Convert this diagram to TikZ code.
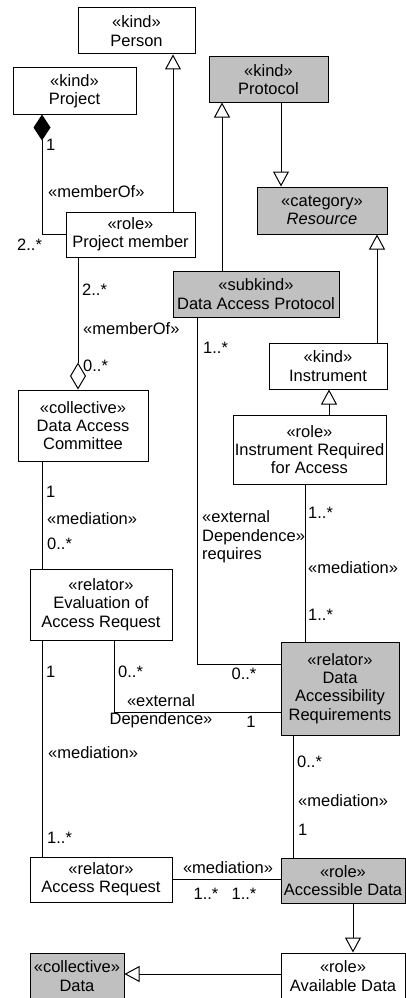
\documentclass[tikz,border=0pt]{standalone}
\usepackage{fontspec}
\setmainfont{Liberation Sans}
\usetikzlibrary{arrows.meta}
\definecolor{umlgray}{RGB}{192,192,192}
\newcommand\umlfont{\fontsize{16.5}{18.3}\selectfont}

\tikzset{
  cls/.style={draw, line width=1pt, fill=white, inner sep=0pt, align=center, font=\umlfont},
  shaded/.style={cls, fill=umlgray},
  lbl/.style={inner sep=0pt, font=\umlfont, anchor=west},
  conn/.style={line width=1pt},
  gen/.style={conn, -{Triangle[open, width=16pt, length=15pt, line width=1pt]}},
  comp/.style={conn, -{Diamond[width=17pt, length=26pt]}},
  aggr/.style={conn, -{Diamond[open, width=16pt, length=27pt, line width=1pt]}},
}

\begin{document}
\begin{tikzpicture}[x=1pt, y=-1pt]
\fill[white] (0,0) rectangle (406,998);
\useasboundingbox (0,0) rectangle (406,998);

% columns and rows used by the connectors
\coordinate (xa) at (42,0);
\coordinate (xb) at (78,0);
\coordinate (xc) at (173,0);
\coordinate (xd) at (222,0);
\coordinate (xe) at (281,0);
\coordinate (xf) at (377,0);
\coordinate (xg) at (197,0);
\coordinate (xh) at (329,0);
\coordinate (xi) at (305,0);
\coordinate (xj) at (114,0);
\coordinate (xk) at (293,0);
\coordinate (xl) at (353,0);
\coordinate (ya) at (0,664);
\coordinate (yb) at (0,712);
\coordinate (yc) at (0,974);

% classes
\node[cls, minimum width=117pt, minimum height=46pt] (person) at (136.5,31) {«kind»\\Person};
\node[cls, minimum width=123pt, minimum height=46pt] (project) at (74.5,91) {«kind»\\Project};
\node[shaded, minimum width=119pt, minimum height=45pt] (protocol) at (268.5,79.5) {«kind»\\Protocol};
\node[shaded, minimum width=130pt, minimum height=47pt] (resource) at (322,210.5) {«category»\\\textit{Resource}};
\node[cls, minimum width=129pt, minimum height=45pt] (pm) at (130.5,234.5) {«role»\\Project member};
\node[shaded, minimum width=166pt, minimum height=46pt] (dap) at (256,294) {«subkind»\\Data Access Protocol};
\node[cls, minimum width=118pt, minimum height=46pt] (instrument) at (328,366) {«kind»\\Instrument};
\node[cls, minimum width=153pt, minimum height=69pt] (ira) at (309.5,449.5) {«role»\\Instrument Required\\for Access};
\node[cls, minimum width=130pt, minimum height=71pt] (dac) at (83,425.5) {«collective»\\Data Access\\Committee};
\node[cls, minimum width=142pt, minimum height=71pt] (eval) at (101,604.5) {«relator»\\Evaluation of\\Access Request};
\node[shaded, minimum width=118pt, minimum height=93pt] (dar) at (340,688.5) {«relator»\\Data\\Accessibility\\Requirements};
\node[cls, minimum width=142pt, minimum height=45pt] (ar) at (101,879.5) {«relator»\\Access Request};
\node[shaded, minimum width=124pt, minimum height=45pt] (accd) at (343,880.5) {«role»\\Accessible Data};
\node[cls, minimum width=124pt, minimum height=46pt] (avail) at (343,976) {«role»\\Available Data};
\node[shaded, minimum width=94pt, minimum height=46pt] (data) at (77,976) {«collective»\\Data};

% generalizations
\draw[gen] (pm.north -| xc) -- (person.south -| xc);
\draw[gen] (protocol.south -| xe) -- (resource.north -| xe);
\draw[gen] (dap.north -| xd) -- (protocol.south -| xd);
\draw[gen] (instrument.north -| xf) -- (resource.south -| xf);
\draw[gen] (ira.north -| xh) -- (instrument.south -| xh);
\draw[gen] (accd.south -| xl) -- (avail.north -| xl);
\draw[gen] (avail.west |- yc) -- (data.east |- yc);

% part-whole relations
\draw[comp] (pm.west) -| (project.south -| xa);
\draw[aggr] (pm.south -| xb) -- (dac.north -| xb);

% mediations and external dependences
\draw[conn] (dac.south -| xa) -- (eval.north -| xa);
\draw[conn] (eval.south -| xa) -- (ar.north -| xa);
\draw[conn] (eval.south -| xj) |- (dar.west |- yb);
\draw[conn] (dap.south -| xg) |- (dar.west |- ya);
\draw[conn] (ira.south -| xi) -- (dar.north -| xi);
\draw[conn] (dar.south -| xk) -- (accd.north -| xk);
\draw[conn] (ar.east) -- (ar.east -| accd.west);

% association labels
\node[lbl] (l1) at (46,145) {1};
\node[lbl] (l2) at (48,192) {«memberOf»};
\node[lbl] (l3) at (17,245) {2..*};

\node[lbl] (l4) at (82,290) {2..*};
\node[lbl] (l5) at (83,329) {«memberOf»};
\node[lbl] (l6) at (83,366) {0..*};

\node[lbl] (l7) at (203,348) {1..*};
\node[lbl, align=left] (l8) at (202,537) {«external\\Dependence»\\requires};
\node[lbl, anchor=center] (l9) at (244,674) {0..*};

\node[lbl] (l10) at (308,513) {1..*};
\node[lbl] (l11) at (308,568) {«mediation»};
\node[lbl] (l12) at (308,615) {1..*};

\node[lbl] (l13) at (46,492) {1};
\node[lbl] (l14) at (47,519) {«mediation»};
\node[lbl] (l15) at (47,544) {0..*};

\node[lbl] (l16) at (46,672) {1};
\node[lbl] (l17) at (48,753) {«mediation»};
\node[lbl] (l18) at (47,838) {1..*};

\node[lbl] (l19) at (118,672) {0..*};
\node[lbl, anchor=center, align=center] (l20) at (161,711) {«external\\Dependence»};
\node[lbl, anchor=center] (l21) at (251,722) {1};

\node[lbl] (l22) at (297,762) {0..*};
\node[lbl] (l23) at (298,801) {«mediation»};
\node[lbl] (l24) at (298,830) {1};

\node[lbl, anchor=center] (l25) at (228,868) {«mediation»};
\node[lbl, anchor=center] (l26) at (206,894) {1..*};
\node[lbl, anchor=center] (l27) at (244,894) {1..*};
\end{tikzpicture}
\end{document}
